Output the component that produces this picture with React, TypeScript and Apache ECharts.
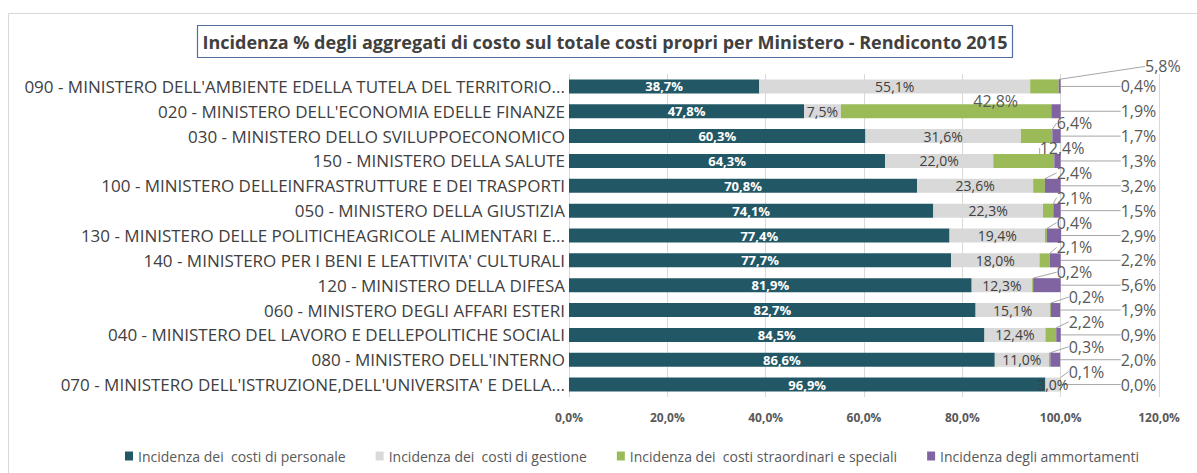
import React, { useEffect, useRef } from "react";
import * as echarts from "echarts";

const categories = [
  "090 - MINISTERO DELL'AMBIENTE EDELLA TUTELA DEL TERRITORIO...",
  "020 - MINISTERO DELL'ECONOMIA EDELLE FINANZE",
  "030 - MINISTERO DELLO SVILUPPOECONOMICO",
  "150 - MINISTERO DELLA SALUTE",
  "100 - MINISTERO DELLEINFRASTRUTTURE E DEI TRASPORTI",
  "050 - MINISTERO DELLA GIUSTIZIA",
  "130 - MINISTERO DELLE POLITICHEAGRICOLE ALIMENTARI E...",
  "140 - MINISTERO PER I BENI E LEATTIVITA' CULTURALI",
  "120 - MINISTERO DELLA DIFESA",
  "060 - MINISTERO DEGLI AFFARI ESTERI",
  "040 - MINISTERO DEL LAVORO E DELLEPOLITICHE SOCIALI",
  "080 - MINISTERO DELL'INTERNO",
  "070 - MINISTERO DELL'ISTRUZIONE,DELL'UNIVERSITA' E DELLA...",
];

const personale = [38.7, 47.8, 60.3, 64.3, 70.8, 74.1, 77.4, 77.7, 81.9, 82.7, 84.5, 86.6, 96.9];
const gestione = [55.1, 7.5, 31.6, 22.0, 23.6, 22.3, 19.4, 18.0, 12.3, 15.1, 12.4, 11.0, 3.0];
const straordinari = [5.8, 42.8, 6.4, 12.4, 2.4, 2.1, 0.4, 2.1, 0.2, 0.2, 2.2, 0.3, 0.1];
const ammortamenti = [0.4, 1.9, 1.7, 1.3, 3.2, 1.5, 2.9, 2.2, 5.6, 1.9, 0.9, 2.0, 0.0];

const seriesNames = [
  "Incidenza dei  costi di personale",
  "Incidenza dei  costi di gestione",
  "Incidenza dei  costi straordinari e speciali",
  "Incidenza degli ammortamenti",
];

const xTicks = { min: 0, max: 120, interval: 20 };

const TITLE = "Incidenza % degli aggregati di costo sul totale costi propri per Ministero - Rendiconto 2015";

const FONT = "'Open Sans', 'Noto Sans', sans-serif";
const fmt = (v: number) => v.toFixed(1).replace(".", ",") + "%";

export default function App() {
  const ref = useRef<HTMLDivElement>(null);

  useEffect(() => {
    if (!ref.current) return;
    const chart = echarts.init(ref.current, null, { renderer: "svg" });
    const x100 = () => chart.convertToPixel({ xAxisIndex: 0 }, 100) as number;

    const outsideLabel = {
      show: true,
      formatter: (p: any) => fmt(p.value),
      color: "#595959",
      fontSize: 16,
      lineHeight: 16,
      fontFamily: FONT,
    };
    const labelLine = { show: true, lineStyle: { color: "#A6A6A6", width: 1 } };

    chart.setOption({
      animation: false,
      textStyle: { fontFamily: FONT },
      graphic: [
        {
          type: "rect",
          shape: { x: 8.5, y: 13.5, width: 1200, height: 470 },
          style: { fill: "none", stroke: "#D9D9D9", lineWidth: 1 },
          silent: true,
        },
        {
          type: "rect",
          shape: { x: 197.5, y: 25.5, width: 815, height: 32 },
          style: { fill: "#fff", stroke: "#4F6E9E", lineWidth: 1.2 },
          silent: true,
        },
        {
          type: "text",
          x: 605,
          y: 42,
          style: {
            text: TITLE,
            fill: "#404040",
            font: `bold 18px ${FONT}`,
            align: "center",
            verticalAlign: "middle",
          },
        },
      ],
      legend: {
        bottom: 5,
        left: 120,
        itemWidth: 8,
        itemHeight: 9,
        itemGap: 30,
        icon: "rect",
        textStyle: { color: "#595959", fontSize: 14, fontFamily: FONT },
        data: seriesNames,
      },
      grid: { left: 569, right: 38, top: 74, bottom: 76, containLabel: false },
      xAxis: {
        type: "value",
        min: xTicks.min,
        max: xTicks.max,
        interval: xTicks.interval,
        axisLine: { show: false },
        axisTick: { show: false },
        splitLine: { lineStyle: { color: "#D9D9D9" } },
        axisLabel: {
          formatter: (v: number) => fmt(v),
          color: "#595959",
          fontSize: 12,
          fontWeight: "bold",
          margin: 14,
          fontFamily: FONT,
        },
      },
      yAxis: {
        type: "category",
        inverse: true,
        data: categories,
        axisLine: { show: false },
        axisTick: { show: false },
        axisLabel: { color: "#404040", fontSize: 17, margin: 4, fontFamily: FONT },
      },
      series: [
        {
          name: seriesNames[0],
          type: "bar",
          stack: "tot",
          barWidth: 14,
          data: personale,
          itemStyle: { color: "#225866" },
          label: {
            show: true,
            position: "inside",
            formatter: (p: any) => fmt(p.value),
            color: "#fff",
            fontWeight: "bold",
            fontSize: 13,
            fontFamily: FONT,
          },
        },
        {
          name: seriesNames[1],
          type: "bar",
          stack: "tot",
          data: gestione,
          itemStyle: { color: "#D9D9D9" },
          label: {
            show: true,
            position: "inside",
            formatter: (p: any) => fmt(p.value),
            color: "#404040",
            fontSize: 14,
            fontFamily: FONT,
          },
        },
        {
          name: seriesNames[2],
          type: "bar",
          stack: "tot",
          data: straordinari,
          itemStyle: { color: "#9BBB59" },
          label: { ...outsideLabel, position: "right" },
          labelLine,
          labelLayout: (p: any) => {
            const cy = p.rect.y + p.rect.height / 2;
            const xr = x100();
            if (p.dataIndex === 0) {
              return { x: xr + 120, y: cy - 20, align: "right", verticalAlign: "middle" };
            }
            if (p.dataIndex === 1) {
              return { x: xr - 65, y: cy - 10, align: "center", verticalAlign: "middle" };
            }
            if (p.dataIndex === 3) {
              return { x: xr - 21, y: cy - 13, align: "left", verticalAlign: "middle" };
            }
            return { x: xr - 4 + (p.dataIndex >= 9 ? 12 : 0), y: cy - 13, align: "left", verticalAlign: "middle" };
          },
        },
        {
          name: seriesNames[3],
          type: "bar",
          stack: "tot",
          data: ammortamenti,
          itemStyle: { color: "#8064A2" },
          label: { ...outsideLabel, position: "right" },
          labelLine,
          labelLayout: (p: any) => {
            const cy = p.rect.y + p.rect.height / 2;
            return { x: x100() + 60, y: cy, align: "left", verticalAlign: "middle" };
          },
        },
      ],
    });
    return () => chart.dispose();
  }, []);

  return (
    <div
      ref={ref}
      style={{ position: "fixed", left: 0, top: 0, width: 1197, height: 473, background: "#fff" }}
    />
  );
}
